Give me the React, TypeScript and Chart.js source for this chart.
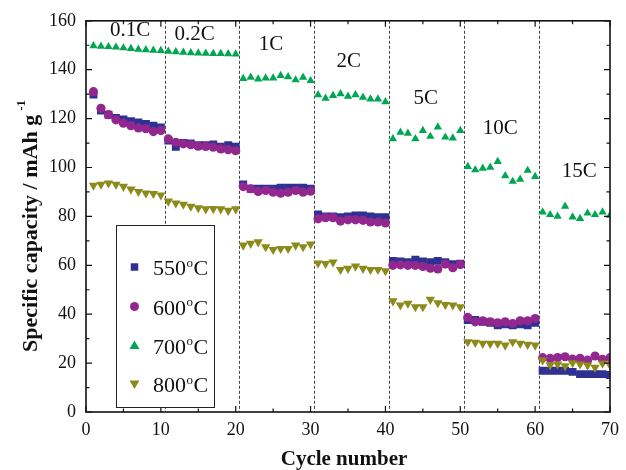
import React, { useEffect, useRef } from 'react';
import { Chart, registerables } from 'chart.js';

Chart.register(...registerables);

// ---------- data ----------
const cycles: number[] = Array.from({ length: 70 }, (_, i) => i + 1);

const cap550 = [
  129.8, 123.3, 121.6, 120.3, 119.6, 118.9, 118.4, 117.8, 117.1, 116.4,
  111.0, 108.5, 110.0, 109.8, 109.1, 109.1, 109.4, 108.5, 109.1, 108.5,
  93.1, 91.3, 91.3, 91.3, 91.3, 91.7, 91.7, 91.7, 91.7, 91.3,
  80.8, 80.0, 80.0, 79.7, 80.0, 80.4, 80.4, 80.0, 79.7, 79.7,
  61.8, 61.6, 61.3, 62.3, 61.6, 61.3, 61.8, 61.3, 60.4, 60.7,
  37.6, 37.6, 36.9, 36.5, 35.5, 35.9, 35.5, 35.9, 35.5, 36.5,
  16.9, 16.9, 16.9, 16.9, 16.4, 15.5, 15.5, 15.5, 15.5, 15.1,
];
const cap600 = [
  131.0, 124.2, 121.6, 119.5, 118.1, 117.1, 116.2, 115.9, 114.7, 115.1,
  111.7, 110.3, 109.7, 109.3, 108.7, 108.6, 108.3, 107.6, 107.3, 106.9,
  92.2, 91.3, 90.2, 90.6, 89.9, 89.5, 89.9, 90.6, 89.9, 90.3,
  79.0, 79.5, 79.5, 78.1, 78.6, 78.6, 78.4, 77.7, 77.7, 77.3,
  60.0, 60.2, 60.0, 60.0, 59.5, 58.8, 58.5, 60.5, 59.0, 60.3,
  38.7, 36.9, 37.3, 36.9, 36.5, 36.9, 36.2, 37.3, 37.3, 38.2,
  22.2, 21.9, 22.3, 22.6, 21.6, 21.9, 21.2, 22.9, 21.5, 22.2,
];
const cap700 = [
  149.8, 149.6, 149.4, 149.2, 148.9, 148.6, 148.3, 148.1, 147.9, 147.8,
  147.5, 147.3, 147.1, 146.9, 146.8, 146.7, 146.6, 146.6, 146.5, 146.4,
  136.4, 136.9, 136.2, 136.6, 136.6, 137.6, 137.1, 135.8, 136.9, 135.5,
  129.7, 128.3, 129.4, 130.1, 129.1, 129.7, 128.7, 128.0, 128.0, 126.9,
  111.7, 114.4, 114.0, 111.7, 115.1, 112.7, 116.5, 112.4, 112.0, 115.1,
  100.4, 99.0, 99.7, 100.1, 102.4, 96.6, 94.3, 95.2, 98.8, 96.3,
  81.8, 80.7, 80.0, 84.1, 79.7, 79.1, 81.3, 80.7, 81.8, 80.4,
];
const cap800 = [
  92.7, 93.1, 93.6, 93.1, 92.2, 91.1, 90.1, 89.5, 89.3, 88.7,
  86.2, 85.4, 84.9, 84.1, 83.5, 83.0, 83.1, 83.0, 82.4, 83.0,
  68.2, 68.9, 69.5, 67.5, 66.4, 66.8, 66.8, 68.2, 67.5, 68.6,
  60.9, 60.7, 61.3, 58.2, 58.7, 59.6, 58.7, 58.2, 58.2, 57.7,
  45.4, 43.7, 44.4, 43.0, 43.0, 46.0, 44.6, 43.9, 43.7, 43.0,
  28.7, 28.4, 28.0, 28.0, 28.0, 27.3, 28.7, 28.0, 27.6, 27.3,
  21.2, 19.2, 19.6, 18.8, 20.1, 19.6, 19.1, 18.2, 19.9, 19.2,
];

const seriesTemps = ['550', '600', '700', '800'];
const rateLabels = ['0.1C', '0.2C', '1C', '2C', '5C', '10C', '15C'];
const rateLabelX = [5.9, 14.5, 24.7, 35.1, 45.4, 55.35, 65.9];
const rateLabelY = [156, 154.3, 150.4, 143.3, 128.2, 115.9, 98.2];
const rateBoundaries = [10.5, 20.5, 30.5, 40.5, 50.5, 60.5];
const xAxisTitle = 'Cycle number';
const yAxisTitle = 'Specific capacity / mAh g';
const yAxisTitleSup = '-1';

// ---------- styles ----------
const COLORS = ['#2e3192', '#92278f', '#00a651', '#8c8a1a'];
const SERIF = '"Liberation Serif", "DejaVu Serif", serif';

function drawMarker(ctx: CanvasRenderingContext2D, kind: number, x: number, y: number, s: number) {
  ctx.beginPath();
  if (kind === 0) {
    ctx.rect(x - s / 2, y - s / 2, s, s);
  } else if (kind === 1) {
    ctx.arc(x, y, s / 2, 0, Math.PI * 2);
  } else if (kind === 2) {
    ctx.moveTo(x, y - s * 0.55);
    ctx.lineTo(x + s * 0.55, y + s * 0.4);
    ctx.lineTo(x - s * 0.55, y + s * 0.4);
    ctx.closePath();
  } else {
    ctx.moveTo(x, y + s * 0.55);
    ctx.lineTo(x + s * 0.55, y - s * 0.4);
    ctx.lineTo(x - s * 0.55, y - s * 0.4);
    ctx.closePath();
  }
  ctx.fill();
}

const overlayPlugin = {
  id: 'overlay',
  beforeDatasetsDraw(chart: any) {
    const { ctx, chartArea: a, scales } = chart;
    ctx.save();
    ctx.strokeStyle = '#444';
    ctx.lineWidth = 1;
    ctx.setLineDash([3, 2]);
    rateBoundaries.forEach((b) => {
      const px = Math.round(scales.x.getPixelForValue(b)) + 0.5;
      ctx.beginPath();
      ctx.moveTo(px, a.top);
      ctx.lineTo(px, a.bottom);
      ctx.stroke();
    });
    ctx.restore();
  },
  afterDraw(chart: any) {
    const { ctx, chartArea: a, scales } = chart;
    const xs = scales.x;
    const ys = scales.y;
    ctx.save();
    // frame
    ctx.strokeStyle = '#111';
    ctx.lineWidth = 1.6;
    ctx.setLineDash([]);
    ctx.strokeRect(a.left, a.top, a.right - a.left, a.bottom - a.top);
    // ticks (inward)
    ctx.lineWidth = 1.2;
    ctx.beginPath();
    for (let v = 0; v <= 160; v += 10) {
      const py = ys.getPixelForValue(v);
      const len = v % 20 === 0 ? 6 : 3.5;
      ctx.moveTo(a.left, py);
      ctx.lineTo(a.left + len, py);
      ctx.moveTo(a.right, py);
      ctx.lineTo(a.right - len, py);
    }
    for (let v = 0; v <= 70; v += 5) {
      const px = xs.getPixelForValue(v);
      const len = v % 10 === 0 ? 6 : 3.5;
      ctx.moveTo(px, a.bottom);
      ctx.lineTo(px, a.bottom - len);
      ctx.moveTo(px, a.top);
      ctx.lineTo(px, a.top + len);
    }
    ctx.stroke();

    // rate labels
    ctx.fillStyle = '#111';
    ctx.font = `21px ${SERIF}`;
    ctx.textAlign = 'center';
    ctx.textBaseline = 'middle';
    rateLabels.forEach((t, i) => {
      ctx.fillText(t, xs.getPixelForValue(rateLabelX[i]), ys.getPixelForValue(rateLabelY[i]));
    });

    // legend
    ctx.fillStyle = '#fff';
    ctx.fillRect(116, 225, 99, 183);
    ctx.strokeStyle = '#222';
    ctx.lineWidth = 1;
    ctx.strokeRect(116.5, 225.5, 98, 182);
    const rows = [267, 306.5, 345.5, 384];
    chart.data.datasets.forEach((ds: any, i: number) => {
      ctx.fillStyle = ds.backgroundColor;
      drawMarker(ctx, i, 134.5, rows[i], i === 0 ? 7.5 : 9);
      ctx.fillStyle = '#111';
      ctx.textAlign = 'left';
      ctx.textBaseline = 'alphabetic';
      ctx.font = `22px ${SERIF}`;
      const base = rows[i] + 8;
      let x = 153;
      ctx.fillText(seriesTemps[i], x, base);
      x += ctx.measureText(seriesTemps[i]).width + 0.5;
      ctx.font = `13px ${SERIF}`;
      ctx.fillText('o', x, base - 8.5);
      x += ctx.measureText('o').width + 0.5;
      ctx.font = `22px ${SERIF}`;
      ctx.fillText('C', x, base);
    });

    // x title
    ctx.fillStyle = '#111';
    ctx.font = `bold 21px ${SERIF}`;
    ctx.textAlign = 'center';
    ctx.textBaseline = 'middle';
    ctx.fillText(xAxisTitle, 344, 460);

    // y title (rotated) with superscript
    ctx.translate(31, 226);
    ctx.rotate(-Math.PI / 2);
    ctx.font = `bold 22px ${SERIF}`;
    const w1 = ctx.measureText(yAxisTitle).width;
    ctx.font = `bold 13px ${SERIF}`;
    const w2 = ctx.measureText(yAxisTitleSup).width;
    const total = w1 + 4 + w2;
    ctx.textAlign = 'left';
    ctx.textBaseline = 'alphabetic';
    ctx.font = `bold 22px ${SERIF}`;
    ctx.fillText(yAxisTitle, -total / 2, 6);
    ctx.font = `bold 13px ${SERIF}`;
    ctx.fillText(yAxisTitleSup, -total / 2 + w1 + 4, -6);
    ctx.restore();
  },
};

export default function App() {
  const ref = useRef<HTMLCanvasElement | null>(null);
  useEffect(() => {
    if (!ref.current) return;
    const series = [cap550, cap600, cap700, cap800];
    const styles = ['rect', 'circle', 'triangle', 'triangle'];
    const radii = [5.6, 4.6, 4.8, 5.4];
    const rotations = [0, 0, 0, 180];
    const orders = [4, 3, 2, 1];
    const chart = new Chart(ref.current, {
      type: 'scatter',
      data: {
        datasets: series.map((vals, i) => ({
          label: seriesTemps[i] + '°C',
          data: vals.map((v, j) => ({ x: cycles[j], y: v })),
          backgroundColor: COLORS[i],
          borderColor: COLORS[i],
          borderWidth: 0,
          pointStyle: styles[i] as any,
          pointRadius: radii[i],
          pointRotation: rotations[i],
          order: orders[i],
          showLine: false,
        })),
      },
      options: {
        animation: false,
        responsive: false,
        layout: { padding: { left: 0, top: 20, right: 10, bottom: 0 } },
        plugins: {
          legend: { display: false },
          tooltip: { enabled: false },
        },
        scales: {
          x: {
            type: 'linear',
            min: 0,
            max: 70,
            grid: { display: false, drawTicks: false },
            border: { display: false },
            ticks: {
              stepSize: 10,
              padding: 7,
              color: '#111',
              font: { family: SERIF, size: 18 },
              maxRotation: 0,
            },
            afterFit: (s: any) => {
              s.height = 58;
            },
          },
          y: {
            type: 'linear',
            min: 0,
            max: 160,
            grid: { display: false, drawTicks: false },
            border: { display: false },
            ticks: {
              stepSize: 20,
              padding: 10,
              color: '#111',
              font: { family: SERIF, size: 18 },
            },
            afterFit: (s: any) => {
              s.width = 86;
            },
          },
        },
      },
      plugins: [overlayPlugin],
    });
    return () => chart.destroy();
  }, []);
  return (
    <div style={{ position: 'fixed', left: 0, top: 0, width: 626, height: 470, background: '#fff' }}>
      <canvas ref={ref} width={626} height={470} />
    </div>
  );
}
